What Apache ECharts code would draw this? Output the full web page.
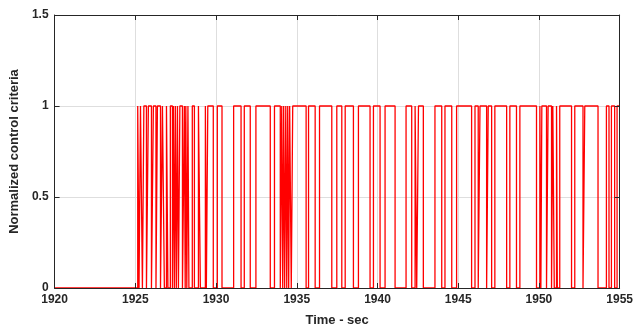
<!DOCTYPE html>
<html>
<head>
<meta charset="utf-8">
<script src="https://cdn.jsdelivr.net/npm/echarts@6/dist/echarts.min.js"></script>
<style>html,body{margin:0;padding:0;background:#fff}#c{width:636px;height:334px}</style>
</head>
<body>
<div id="c"></div>
<script>
// Data
var startTime = 1920;
var endTime = 1955;
var riseTimes = [1925.15,1925.32,1925.53,1925.81,1926.12,1926.37,1926.68,1926.93,1927.17,1927.36,1927.48,1927.61,1927.76,1928.04,1928.13,1928.26,1928.53,1928.91,1929.34,1929.49,1930.08,1931.09,1931.75,1932.47,1933.62,1934.07,1934.19,1934.32,1934.44,1934.56,1934.75,1935.73,1936.41,1937.48,1938.00,1938.82,1939.75,1940.47,1941.77,1942.33,1942.54,1943.56,1944.18,1944.90,1946.04,1946.35,1946.86,1947.27,1948.20,1948.82,1950.06,1950.18,1950.57,1950.86,1951.09,1951.29,1952.22,1952.84,1954.18,1954.49,1954.84];
var fallTimes = [1925.23,1925.44,1925.69,1926.00,1926.28,1926.56,1926.80,1927.02,1927.30,1927.42,1927.54,1927.67,1927.92,1928.09,1928.19,1928.32,1928.66,1929.03,1929.40,1929.83,1930.37,1931.55,1932.12,1933.36,1933.98,1934.13,1934.25,1934.38,1934.50,1934.66,1935.58,1936.14,1937.17,1937.79,1938.51,1939.54,1940.16,1941.09,1942.12,1942.43,1942.84,1943.98,1944.60,1945.83,1946.24,1946.76,1947.07,1948.00,1948.61,1949.85,1950.12,1950.47,1950.78,1950.95,1951.14,1952.02,1952.73,1953.66,1954.34,1954.69];
var xTicks = [1920,1925,1930,1935,1940,1945,1950,1955];
var yTicks = [0,0.5,1,1.5];

var events = [];
riseTimes.forEach(function(t){ events.push([t,1]); });
fallTimes.forEach(function(t){ events.push([t,0]); });
events.sort(function(a,b){return a[0]-b[0];});
var data = [[startTime,0]].concat(events);
data.push([endTime, data[data.length-1][1]]);

var chart = echarts.init(document.getElementById('c'), null, {renderer:'canvas'});
var font = 'Liberation Sans, Arial, Helvetica, sans-serif';
var axisCol = '#262626';
function boxX(pos){
  return {type:'value',min:1920,max:1955,interval:5,position:pos,z:5,
    axisLine:{show:true,onZero:false,lineStyle:{color:axisCol,width:1}},
    axisTick:{show:true,inside:true,length:5,lineStyle:{color:axisCol}},
    axisLabel:{show:false},splitLine:{show:false}};
}
function boxY(pos){
  return {type:'value',min:0,max:1.5,interval:0.5,position:pos,z:5,
    axisLine:{show:true,onZero:false,lineStyle:{color:axisCol,width:1}},
    axisTick:{show:true,inside:true,length:5,lineStyle:{color:axisCol}},
    axisLabel:{show:false},splitLine:{show:false}};
}
chart.setOption({
  animation:false,
  grid:{left:54,right:16,top:15,bottom:46,containLabel:false},
  xAxis:[{
    type:'value',min:1920,max:1955,interval:5,position:'bottom',
    axisLine:{show:false},axisTick:{show:false},
    axisLabel:{color:'#262626',fontFamily:font,fontWeight:'bold',fontSize:12,margin:6,
      formatter:function(v){return xTicks.indexOf(v)>=0?String(v):'';}},
    splitLine:{show:true,lineStyle:{color:'#dedede',width:1}},
    name:'Time - sec',nameLocation:'middle',nameGap:26,
    nameTextStyle:{color:'#262626',fontFamily:font,fontWeight:'bold',fontSize:13}
  }, boxX('top'), boxX('bottom')],
  yAxis:[{
    type:'value',min:0,max:1.5,interval:0.5,position:'left',
    axisLine:{show:false},axisTick:{show:false},
    axisLabel:{color:'#262626',fontFamily:font,fontWeight:'bold',fontSize:12,margin:6,
      formatter:function(v){return yTicks.indexOf(v)>=0?String(v):'';}},
    splitLine:{show:true,lineStyle:{color:'#dedede',width:1}},
    name:'Normalized control criteria',nameLocation:'middle',nameGap:30,nameRotate:90,
    nameTextStyle:{color:'#262626',fontFamily:font,fontWeight:'bold',fontSize:13}
  }, boxY('right'), boxY('left')],
  series:[{
    type:'line',xAxisIndex:0,yAxisIndex:0,step:'end',data:data,
    showSymbol:false,symbol:'none',
    lineStyle:{color:'#ff0000',width:1.3},
    z:2
  }]
});
</script>
</body>
</html>
